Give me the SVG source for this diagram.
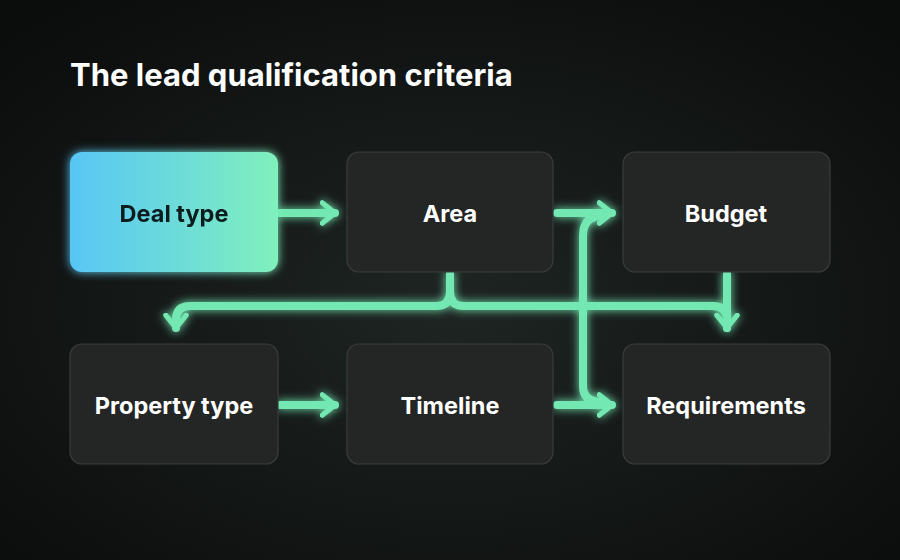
<svg xmlns="http://www.w3.org/2000/svg" width="900" height="560" viewBox="0 0 900 560">
<defs>
<radialGradient id="bg" cx="0.5" cy="0.55" r="0.7"><stop offset="0" stop-color="#1e2523"/><stop offset="1" stop-color="#0b0c0c"/></radialGradient>
<linearGradient id="deal" x1="0" y1="0" x2="1" y2="0"><stop offset="0" stop-color="#58c6f6"/><stop offset="1" stop-color="#80f0bd"/></linearGradient>
<filter id="glow" x="-20%" y="-20%" width="140%" height="140%"><feGaussianBlur stdDeviation="5" result="b"/><feMerge><feMergeNode in="b"/><feMergeNode in="SourceGraphic"/></feMerge></filter>
<marker id="ah" viewBox="0 0 10 10" refX="6" refY="5" markerWidth="3.2" markerHeight="3.2" orient="auto" markerUnits="strokeWidth"><path d="M1 1 L6 5 L1 9" fill="none" stroke="#73e8b2" stroke-width="2" stroke-linecap="round" stroke-linejoin="round"/></marker>
</defs>
<style>
.box{fill:#242626;stroke:#3a3d3d;stroke-width:1.2}
.t{font-family:Inter,"Liberation Sans",sans-serif;font-weight:700;font-size:23.5px;fill:#fff;text-anchor:middle;dominant-baseline:central}
.c{fill:none;stroke:#73e8b2;stroke-width:8;stroke-linecap:round;stroke-linejoin:round}
</style>
<rect width="900" height="560" fill="url(#bg)"/>
<text x="70" y="86" font-family="Inter,'Liberation Sans',sans-serif" font-weight="700" font-size="31" fill="#fff">The lead qualification criteria</text>
<g id="connectors" filter="url(#glow)">
<path class="c" d="M280 213 H335" marker-end="url(#ah)"/>
<path class="c" d="M557 213 H612" marker-end="url(#ah)"/>
<path class="c" d="M280 405 H335" marker-end="url(#ah)"/>
<path class="c" d="M557 405 H612" marker-end="url(#ah)"/>
<path class="c" d="M602 216 Q583 216 583 236 V386 Q583 402 602 402"/>
<path class="c" d="M450 274 V292 Q450 306 436 306 H190 Q176 306 176 320 V328" marker-end="url(#ah)"/>
<path class="c" d="M450 292 Q450 306 464 306 H713 Q727 306 727 320 V328" marker-end="url(#ah)"/>
<path class="c" d="M727 274 V328"/>
</g>
<g id="deal-type" filter="url(#glow)"><rect x="70" y="152" width="208" height="120" rx="12" fill="url(#deal)"/><text class="t" x="174" y="213" style="fill:#0c1a1c">Deal type</text></g>
<g id="area"><rect class="box" x="347" y="152" width="206" height="120" rx="12"/><text class="t" x="450" y="213">Area</text></g>
<g id="budget"><rect class="box" x="623" y="152" width="207" height="120" rx="12"/><text class="t" x="726" y="213">Budget</text></g>
<g id="property-type"><rect class="box" x="70" y="344" width="208" height="120" rx="12"/><text class="t" x="174" y="405">Property type</text></g>
<g id="timeline"><rect class="box" x="347" y="344" width="206" height="120" rx="12"/><text class="t" x="450" y="405">Timeline</text></g>
<g id="requirements"><rect class="box" x="623" y="344" width="207" height="120" rx="12"/><text class="t" x="726" y="405">Requirements</text></g>
</svg>
